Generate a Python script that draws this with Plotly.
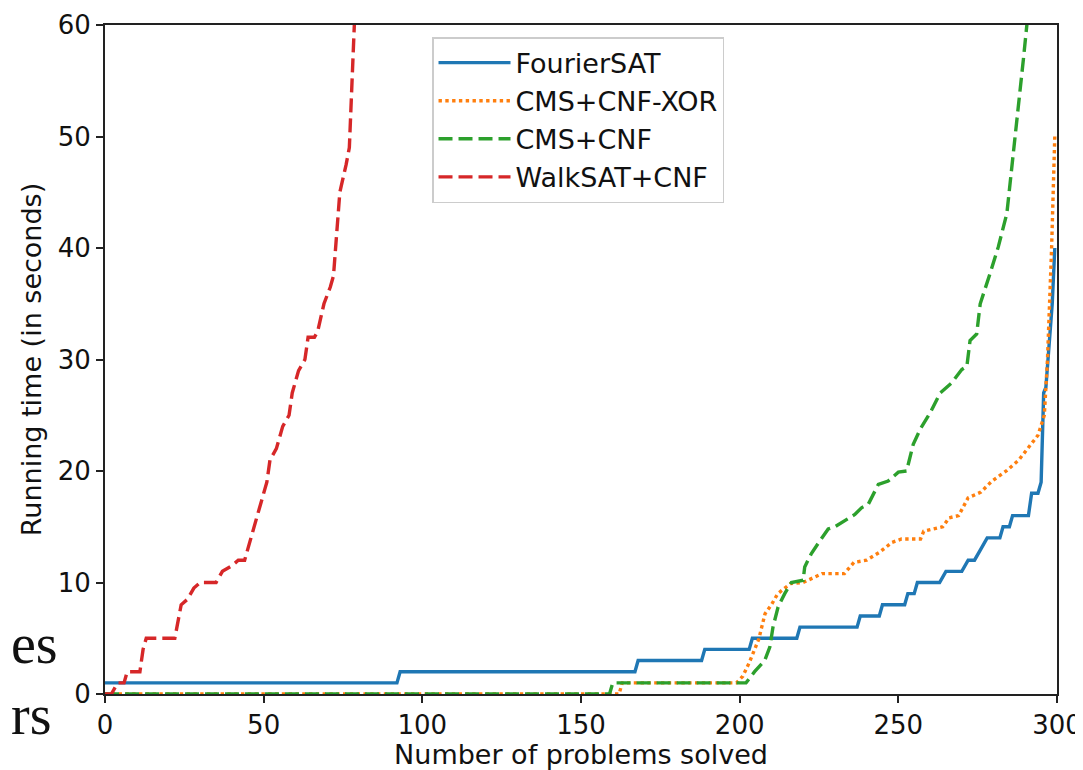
import plotly.graph_objects as go

# ---- data ----
fourier_x = [0, 92, 93, 167, 168, 188, 189, 203, 204, 218, 219, 237, 238, 244, 245, 252, 253, 255, 256, 263, 265, 270, 272, 274, 276, 278, 282, 283, 285, 286, 291, 292, 294, 295, 295.8, 296.5, 298.5, 299.3]
fourier_y = [1, 1, 2, 2, 3, 3, 4, 4, 5, 5, 6, 6, 7, 7, 8, 8, 9, 9, 10, 10, 11, 11, 12, 12, 13, 14, 14, 15, 15, 16, 16, 18, 18, 19, 27, 27.5, 35, 40]

xor_x = [0, 162, 163, 199, 201, 203, 206, 207, 208, 210, 212, 216, 220, 226, 233, 236, 240, 244, 248, 251, 257, 258, 264, 266, 269, 272, 276, 279.5, 284, 288, 291, 294, 296, 297, 298.3, 299.3]
xor_y = [0, 0, 1, 1, 1.6, 2.8, 4.9, 6, 7.2, 8, 9, 9.9, 10, 10.8, 10.8, 11.8, 12, 12.7, 13.6, 13.9, 13.9, 14.6, 15, 15.8, 16, 17.6, 18.1, 19.1, 20, 21, 22.1, 23.2, 25, 30, 40, 50]

cnf_x = [0, 159, 160, 202, 204.7, 207.9, 209.5, 210.5, 212.1, 214.2, 216.3, 220, 220.5, 222.6, 224.7, 227.9, 230, 236.3, 238.4, 240.5, 243.7, 246.8, 250, 252.6, 254.7, 257, 260, 263.2, 266.8, 270, 271.6, 272.6, 274.7, 275.8, 278.9, 281.5, 284.2, 286.3, 287.8, 289.4, 290.5, 291]
cnf_y = [0, 0, 1, 1, 2, 3, 4.2, 6, 7.8, 9, 10, 10.2, 11.4, 12.6, 13.5, 14.8, 15, 16.1, 16.7, 17, 18.8, 19.1, 19.9, 20, 22.4, 23.8, 25.2, 27, 27.9, 29.1, 29.4, 31.7, 32.3, 35, 37.7, 40.1, 43.1, 48.5, 53, 56.9, 60, 63]

walk_x = [0, 2, 4, 6, 7, 11, 12, 13, 16, 22, 24, 26, 28, 30, 35, 37, 40, 42, 44, 46, 49, 51, 52, 54, 56, 58, 59, 61, 63, 64, 66, 67, 69, 71, 72, 73, 74, 76, 77, 78, 78.6, 79]
walk_y = [0, 0, 1, 1, 2, 2, 4, 5, 5, 5, 8, 8.5, 9.5, 10, 10, 11, 11.5, 12, 12, 14, 17, 19, 21, 22, 24, 25, 27, 29, 30, 32, 32, 32.5, 35, 36.5, 37.5, 41, 45, 47.5, 49, 56, 60, 63]

series_names = ["FourierSAT", "CMS+CNF-XOR", "CMS+CNF", "WalkSAT+CNF"]
x_ticks = [0, 50, 100, 150, 200, 250, 300]
y_ticks = [0, 10, 20, 30, 40, 50, 60]
margin_texts = ["es", "rs"]

colors = ["#1f77b4", "#ff7f0e", "#2ca02c", "#d62728"]
dashes = ["solid", "dot", "14px,6px", "14px,6px"]
xs = [fourier_x, xor_x, cnf_x, walk_x]
ys = [fourier_y, xor_y, cnf_y, walk_y]

fig = go.Figure()
for name, x, y, c, d in zip(series_names, xs, ys, colors, dashes):
    fig.add_trace(go.Scatter(x=x, y=y, mode="lines", name=name,
                             line=dict(color=c, width=3.4, dash=d)))

font_family = "DejaVu Sans"
FS = 26
FT = 27
fig.update_layout(
    width=1075, height=762,
    margin=dict(l=97, r=26, t=17, b=76, autoexpand=False),
    paper_bgcolor="white", plot_bgcolor="white",
    font=dict(family=font_family, size=FS, color="#111111"),
    showlegend=True,
    legend=dict(x=0.3435, y=0.982, xanchor="left", yanchor="top",
                bgcolor="rgba(255,255,255,0.9)", bordercolor="#cccccc", borderwidth=1.5,
                font=dict(size=FT), tracegroupgap=0, itemwidth=72),
    xaxis=dict(range=[0, 300], tickvals=x_ticks, showgrid=False, zeroline=False,
               showline=True, linecolor="#222222", linewidth=2, mirror=True,
               ticks="outside", ticklen=7, tickwidth=2, tickcolor="#222222",
               title=dict(text="Number of problems solved", font=dict(size=FT), standoff=12)),
    yaxis=dict(range=[0, 60], tickvals=y_ticks, showgrid=False, zeroline=False,
               showline=True, linecolor="#222222", linewidth=2, mirror=True,
               ticks="outside", ticklen=7, tickwidth=2, tickcolor="#222222",
               title=dict(text="Running time (in seconds)", font=dict(size=FT), standoff=8)),
)

# stray text fragments visible at the left edge of the scanned page
left_edge = -97 / 952
for txt, yy in zip(margin_texts, [0.075, -0.031]):
    fig.add_annotation(text=txt, xref="paper", yref="paper", x=left_edge + 0.001, y=yy,
                       xanchor="left", yanchor="middle", showarrow=False,
                       font=dict(family="Liberation Serif", size=56, color="#111111"))

fig.write_html("out.html")
